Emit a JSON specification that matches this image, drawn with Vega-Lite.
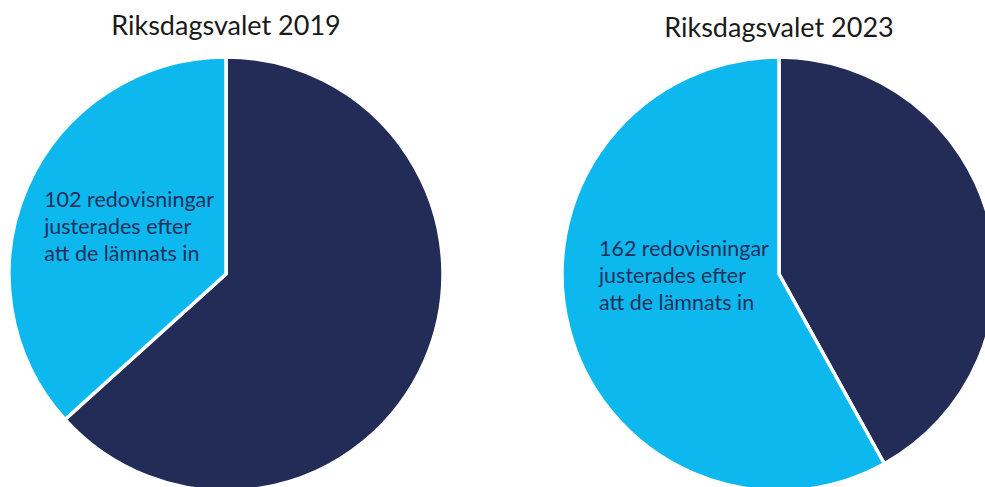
{
  "$schema": "https://vega.github.io/schema/vega-lite/v6.json",
  "padding": {"top": 13, "left": 0, "right": 0, "bottom": 0},
  "spacing": 101,
  "background": "white",
  "config": {
    "view": {"stroke": null},
    "font": "Lato",
    "title": {"fontSize": 27, "fontWeight": "normal", "color": "#1a1a1a", "font": "Lato", "offset": 18, "anchor": "middle"}
  },
  "datasets": {
    "v2019": [
      {"kategori": "Ej justerade", "antal": 176, "etikett": ""},
      {"kategori": "Justerade", "antal": 102, "etikett": "102 redovisningar\njusterades efter\natt de lämnats in"}
    ],
    "v2023": [
      {"kategori": "Ej justerade", "antal": 117, "etikett": ""},
      {"kategori": "Justerade", "antal": 162, "etikett": "162 redovisningar\njusterades efter\natt de lämnats in"}
    ]
  },
  "hconcat": [
    {
      "title": {"text": "Riksdagsvalet 2019", "offset": 9},
      "width": 452,
      "height": 430,
      "data": {"name": "v2019"},
      "encoding": {
        "theta": {"field": "antal", "type": "quantitative", "stack": true},
        "order": {"field": "kategori", "sort": "ascending"}
      },
      "layer": [
        {
          "mark": {"type": "arc", "outerRadius": 217, "stroke": "white", "strokeWidth": 3.5},
          "encoding": {
            "color": {"field": "kategori", "type": "nominal", "scale": {"domain": ["Ej justerade", "Justerade"], "range": ["#222c57", "#0cb8ee"]}, "legend": null}
          }
        },
        {
          "mark": {"type": "text", "radius": 199, "align": "left", "baseline": "middle", "fontSize": 21.5, "lineHeight": 27, "dy": 8, "lineBreak": "\n", "color": "#22305a"},
          "encoding": {"text": {"field": "etikett"}}
        }
      ]
    },
    {
      "title": {"text": "Riksdagsvalet 2023", "offset": 7},
      "width": 452,
      "height": 430,
      "data": {"name": "v2023"},
      "encoding": {
        "theta": {"field": "antal", "type": "quantitative", "stack": true},
        "order": {"field": "kategori", "sort": "ascending"}
      },
      "layer": [
        {
          "mark": {"type": "arc", "outerRadius": 217, "stroke": "white", "strokeWidth": 3.5},
          "encoding": {
            "color": {"field": "kategori", "type": "nominal", "scale": {"domain": ["Ej justerade", "Justerade"], "range": ["#222c57", "#0cb8ee"]}, "legend": null}
          }
        },
        {
          "mark": {"type": "text", "radius": 186, "align": "left", "baseline": "middle", "fontSize": 21.5, "lineHeight": 27, "dy": -71, "lineBreak": "\n", "color": "#22305a"},
          "encoding": {"text": {"field": "etikett"}}
        }
      ]
    }
  ]
}
